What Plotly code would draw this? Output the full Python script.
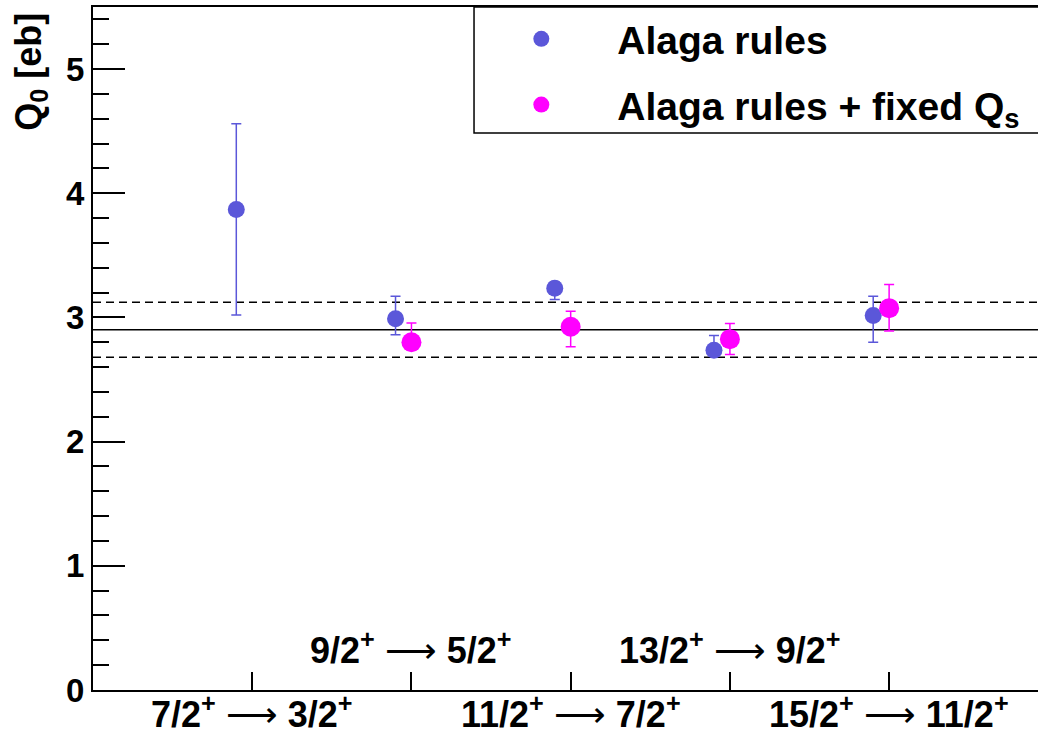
import plotly.graph_objects as go

# ---- data ----
transition_labels = [
    "<b>7/2<sup>+</sup></b> ⟶ <b>3/2<sup>+</sup></b>",
    "<b>9/2<sup>+</sup></b> ⟶ <b>5/2<sup>+</sup></b>",
    "<b>11/2<sup>+</sup></b> ⟶ <b>7/2<sup>+</sup></b>",
    "<b>13/2<sup>+</sup></b> ⟶ <b>9/2<sup>+</sup></b>",
    "<b>15/2<sup>+</sup></b> ⟶ <b>11/2<sup>+</sup></b>",
]
transition_index = [1, 2, 3, 4, 5]

alaga_q0 = [3.87, 2.99, 3.235, 2.735, 3.015]
alaga_err_plus = [0.69, 0.18, 0.05, 0.12, 0.155]
alaga_err_minus = [0.85, 0.13, 0.09, 0.04, 0.215]

fixed_index = [2, 3, 4, 5]
fixed_q0 = [2.80, 2.925, 2.825, 3.075]
fixed_err_plus = [0.155, 0.125, 0.127, 0.19]
fixed_err_minus = [0.06, 0.16, 0.123, 0.185]

q0_mean = 2.90
q0_upper = 3.123
q0_lower = 2.68

y_tick_vals = [0, 1, 2, 3, 4, 5]

# ---- style ----
FONT = "Liberation Sans"
BLUE = "#5b57d9"
MAGENTA = "#ff00ff"
X_RANGE = [0, 5.935]
OFFSET = 0.1

fig = go.Figure()

fig.add_trace(go.Scatter(
    x=[i - OFFSET for i in transition_index], y=alaga_q0,
    mode="markers", name="Alaga rules", legendgroup="a",
    marker=dict(color=BLUE, size=17),
    error_y=dict(type="data", symmetric=False, array=alaga_err_plus,
                 arrayminus=alaga_err_minus, color=BLUE, thickness=1.5, width=5),
))
fig.add_trace(go.Scatter(
    x=fixed_index, y=fixed_q0,
    mode="markers", name="Alaga rules + fixed Q<sub>s</sub>", legendgroup="b",
    marker=dict(color=MAGENTA, size=20),
    error_y=dict(type="data", symmetric=False, array=fixed_err_plus,
                 arrayminus=fixed_err_minus, color=MAGENTA, thickness=1.5, width=5),
))

shapes = [
    dict(type="line", xref="x", yref="y", x0=X_RANGE[0], x1=X_RANGE[1],
         y0=q0_mean, y1=q0_mean, line=dict(color="black", width=1.5), layer="below"),
    dict(type="line", xref="x", yref="y", x0=X_RANGE[0], x1=X_RANGE[1],
         y0=q0_upper, y1=q0_upper, line=dict(color="black", width=1.5, dash="8px,5px"), layer="below"),
    dict(type="line", xref="x", yref="y", x0=X_RANGE[0], x1=X_RANGE[1],
         y0=q0_lower, y1=q0_lower, line=dict(color="black", width=1.5, dash="8px,5px"), layer="below"),
    # legend box
    dict(type="rect", xref="paper", yref="paper", x0=0.4032, x1=1.01, y0=0.8155, y1=1.0,
         line=dict(color="black", width=1.5), fillcolor="white", layer="below"),
]

annotations = []
for k, (idx, lab) in enumerate(zip(transition_index, transition_labels)):
    below = (k % 2 == 0)
    annotations.append(dict(
        x=idx, xref="x", y=0, yref="paper", text=lab, showarrow=False,
        xanchor="center", yanchor="middle", yshift=-22 if below else 42,
        font=dict(family=FONT, size=36, color="black"),
    ))
annotations.append(dict(
    x=-0.066, xref="paper", y=0.994, yref="paper", text="<b>Q<sub>0</sub> [eb]</b>",
    textangle=-90, showarrow=False, xanchor="center", yanchor="top",
    font=dict(family=FONT, size=36, color="black"),
))

fig.update_layout(
    width=1038, height=734,
    margin=dict(l=93, r=0, t=7, b=44),
    paper_bgcolor="white", plot_bgcolor="white",
    shapes=shapes, annotations=annotations,
    legend=dict(x=0.394, y=1.0, xanchor="left", yanchor="top", itemwidth=142,
                bgcolor="rgba(0,0,0,0)", borderwidth=0, tracegroupgap=12,
                font=dict(family=FONT, size=39, color="black", weight="bold")),
    xaxis=dict(range=X_RANGE, tickvals=transition_index, showticklabels=False,
               ticks="inside", ticklen=18, tickwidth=2, tickcolor="black",
               showline=True, linewidth=2, linecolor="black", mirror=True,
               showgrid=False, zeroline=False),
    yaxis=dict(range=[0, 5.5], tickvals=y_tick_vals,
               ticks="inside", ticklen=32, tickwidth=2, tickcolor="black",
               showline=True, linewidth=2, linecolor="black",
               showgrid=False, zeroline=False,
               tickfont=dict(family=FONT, size=33, color="black", weight="bold"),
               minor=dict(dtick=0.2, ticks="inside", ticklen=16, tickwidth=2,
                          tickcolor="black", showgrid=False)),
)

fig.write_html("out.html")
